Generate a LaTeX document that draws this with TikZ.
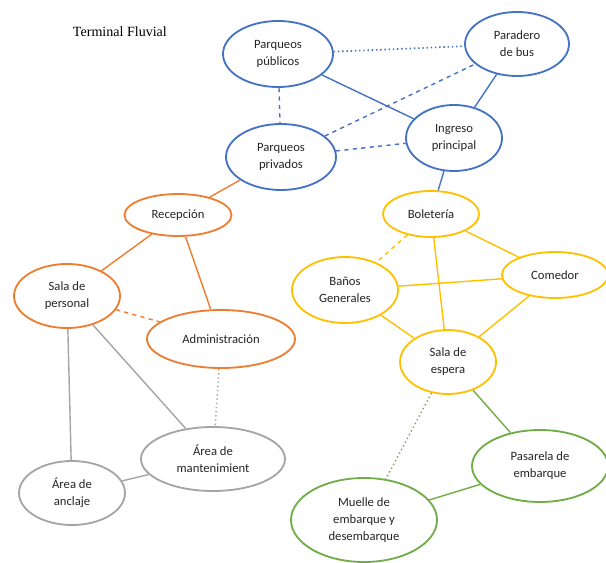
\documentclass[tikz,border=0pt]{standalone}
\usepackage{fontspec}
\setmainfont{Carlito}
\newfontfamily\titlefont{Liberation Serif}
\usetikzlibrary{shapes.geometric}
\definecolor{zoneBlue}{RGB}{68,114,196}
\definecolor{zoneOrange}{RGB}{237,125,49}
\definecolor{zoneGold}{RGB}{255,192,0}
\definecolor{zoneGray}{RGB}{165,165,165}
\definecolor{zoneGreen}{RGB}{112,173,71}

\begin{document}
\begin{tikzpicture}[x=0.025cm,y=-0.025cm,
  zone/.style={ellipse,draw=#1,line width=1.3pt,fill=white,inner sep=0pt,
               align=center,font=\fontsize{9}{12}\selectfont,text=black!85},
  sz/.style 2 args={minimum width=#1*0.025cm,minimum height=#2*0.025cm},
  lnk/.style={draw=#1,line width=1pt}
]
  \useasboundingbox (0,0) rectangle (606,563);
  \node[font=\titlefont\fontsize{10}{12}\selectfont,anchor=west](T) at (68,32) {Terminal Fluvial};

  % ── acceso ──
  \node[zone=zoneBlue,sz={110}{66}](PP) at (278,54)  {Parqueos\\públicos};
  \node[zone=zoneBlue,sz={104}{64}](PB) at (517,44)  {Paradero\\de bus};
  \node[zone=zoneBlue,sz={96}{66}] (IP) at (454,138) {Ingreso\\principal};
  \node[zone=zoneBlue,sz={110}{66}](PV) at (281,157) {Parqueos\\privados};

  % ── administracion ──
  \node[zone=zoneOrange,sz={107}{42}](RE) at (178,215) {Recepción};
  \node[zone=zoneOrange,sz={106}{64}](SP) at (67,296)  {Sala de\\personal};
  \node[zone=zoneOrange,sz={148}{58}](AD) at (221,339) {Administración};

  % ── servicio ──
  \node[zone=zoneGray,sz={144}{64}](AM) at (213,459) {Área de\\mantenimient};
  \node[zone=zoneGray,sz={106}{64}](AA) at (72,493)  {Área de\\anclaje};

  % ── pasajeros ──
  \node[zone=zoneGold,sz={96}{46}] (BO) at (431,214) {Boletería};
  \node[zone=zoneGold,sz={106}{66}](BG) at (345,290) {Baños\\Generales};
  \node[zone=zoneGold,sz={106}{46}](CO) at (555,275) {Comedor};
  \node[zone=zoneGold,sz={96}{64}] (SE) at (448,362) {Sala de\\espera};

  % ── muelle ──
  \node[zone=zoneGreen,sz={136}{72}](PE) at (540,466) {Pasarela de\\embarque};
  \node[zone=zoneGreen,sz={146}{84}](MU) at (364,520) {Muelle de\\embarque y\\desembarque};

  % links
  \draw[lnk=zoneBlue,dotted,line width=1.2pt](PP)--(PB);
  \draw[lnk=zoneBlue](PP)--(IP);
  \draw[lnk=zoneBlue,dashed](PP)--(PV);
  \draw[lnk=zoneBlue,dashed](PV)--(PB);
  \draw[lnk=zoneBlue,dashed](PV)--(IP);
  \draw[lnk=zoneBlue](PB)--(IP);
  \draw[lnk=zoneBlue](IP)--(BO);
  \draw[lnk=zoneOrange](PV)--(RE);
  \draw[lnk=zoneOrange](RE)--(SP);
  \draw[lnk=zoneOrange](RE)--(AD);
  \draw[lnk=zoneOrange,dashed](SP)--(AD);
  \draw[lnk=zoneGray](SP)--(AA);
  \draw[lnk=zoneGray](SP)--(AM);
  \draw[lnk=zoneGray](AM)--(AA);
  \draw[lnk=zoneGray,dotted](AD)--(AM);
  \draw[lnk=zoneGold,dashed](BO)--(BG);
  \draw[lnk=zoneGold](BO)--(CO);
  \draw[lnk=zoneGold](BO)--(SE);
  \draw[lnk=zoneGold](BG)--(CO);
  \draw[lnk=zoneGold](BG)--(SE);
  \draw[lnk=zoneGold](CO)--(SE);
  \draw[lnk=zoneGreen,dotted](SE)--(MU);
  \draw[lnk=zoneGreen](SE)--(PE);
  \draw[lnk=zoneGreen](PE)--(MU);
\end{tikzpicture}
\end{document}
